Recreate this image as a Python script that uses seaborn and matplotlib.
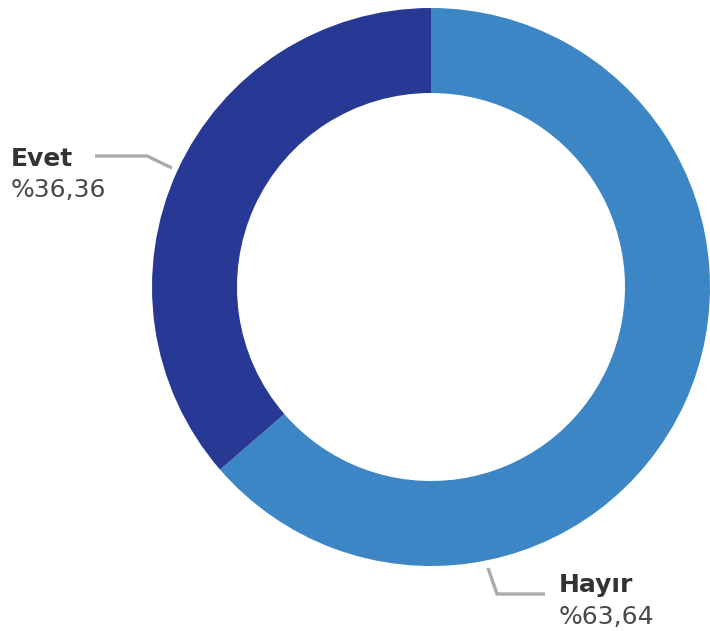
import matplotlib
matplotlib.use("Agg")
import matplotlib.pyplot as plt
import seaborn as sns

# Veriler
labels = ["Hayır", "Evet"]
values = [63.64, 36.36]
pct_labels = ["%63,64", "%36,36"]
colors = ["#3d86c6", "#283895"]

W, H = 710, 631

sns.set_theme(style="white")
plt.rcParams["font.family"] = ["DejaVu Sans"]


def py(y):
    # piksel y -> veri y
    return H - y


fig = plt.figure(figsize=(W / 100, H / 100), dpi=100)
ax = fig.add_axes([0, 0, 1, 1])
ax.set_xlim(0, W)
ax.set_ylim(0, H)
ax.set_aspect("equal")
ax.axis("off")

ax.pie(values, colors=colors, startangle=90, counterclock=False,
       center=(431, py(287)), radius=279,
       wedgeprops=dict(width=85, edgecolor="none"))
ax.set_xlim(0, W)
ax.set_ylim(0, H)

line_kw = dict(color="#ababab", lw=2.4, solid_capstyle="butt", solid_joinstyle="miter")

# Evet etiketi
ax.plot([95, 147, 172], [py(156), py(156), py(168)], **line_kw)
ax.text(11, py(166), labels[1], fontsize=18, fontweight="bold", color="#333333", va="baseline")
ax.text(11, py(197), pct_labels[1], fontsize=18, color="#4a4a4a", va="baseline")

# Hayır etiketi
ax.plot([488, 497, 545], [py(568), py(594), py(594)], **line_kw)
ax.text(559, py(592), labels[0], fontsize=18, fontweight="bold", color="#333333", va="baseline")
ax.text(559, py(624), pct_labels[0], fontsize=18, color="#4a4a4a", va="baseline")

fig.savefig("out.png", dpi=100)
plt.close(fig)
